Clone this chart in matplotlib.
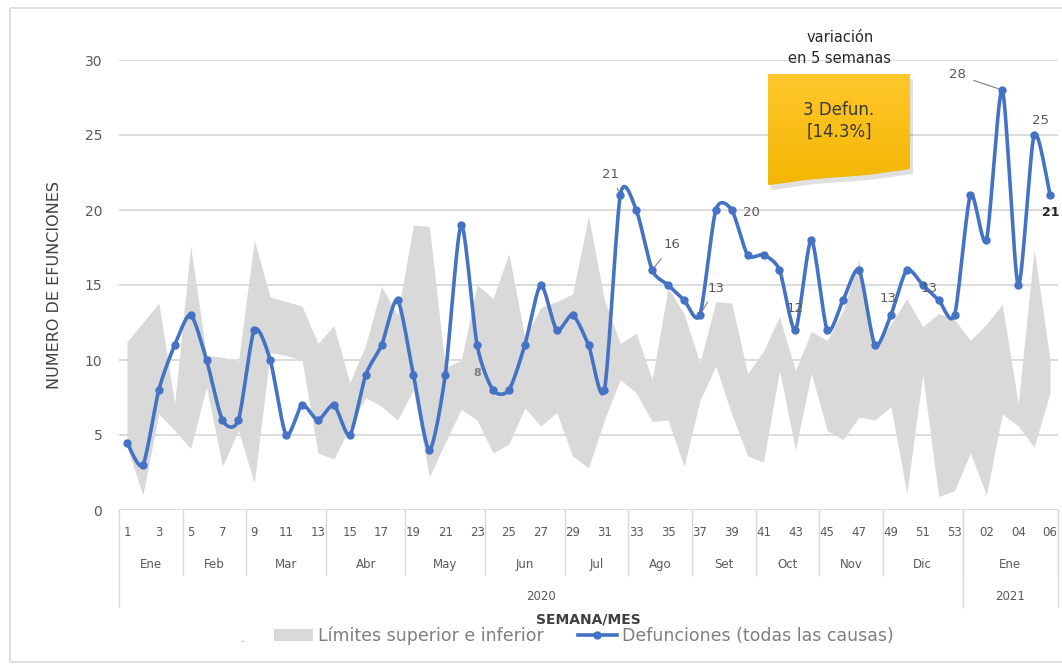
import numpy as np
import matplotlib
matplotlib.use("Agg")
import matplotlib.pyplot as plt
import matplotlib.transforms as mtransforms
from matplotlib.patches import Polygon, Rectangle, Patch
from matplotlib.lines import Line2D

# --- data -------------------------------------------------------------
deaths = [4.5, 3, 8, 11, 13, 10, 6, 6, 12, 10,
          5, 7, 6, 7, 5, 9, 11, 14, 9, 4,
          9, 19, 11, 8, 8, 11, 15, 12, 13, 11,
          8, 21, 20, 16, 15, 14, 13, 20, 20, 17,
          17, 16, 12, 18, 12, 14, 16, 11, 13, 16,
          15, 14, 13, 21, 18, 28, 15, 25, 21]

upper = [11.2, 12.5, 13.8, 7.1, 17.6, 10.3, 10.2, 9.9, 18.0, 14.2,
         13.9, 13.6, 11.1, 12.3, 8.5, 11.0, 14.9, 13.0, 19.0, 18.9,
         9.5, 10.0, 15.0, 14.1, 17.1, 11.5, 13.5, 13.9, 14.4, 19.6,
         14.0, 11.1, 11.8, 8.7, 14.8, 13.1, 9.8, 13.9, 13.8, 9.1,
         10.6, 12.9, 9.3, 11.9, 11.3, 13.3, 16.7, 10.9, 12.4, 14.1,
         12.2, 13.1, 12.7, 11.3, 12.4, 13.7, 7.1, 17.4, 10.0]

lower = [4.2, 1.0, 6.4, 5.3, 4.1, 8.2, 2.9, 5.3, 1.8, 10.5,
         10.3, 10.0, 3.8, 3.4, 5.5, 7.5, 6.9, 6.0, 8.0, 2.2,
         4.5, 6.7, 6.0, 3.8, 4.4, 6.8, 5.6, 6.5, 3.6, 2.8,
         6.0, 8.7, 7.8, 5.9, 6.0, 2.9, 7.3, 9.6, 6.4, 3.6,
         3.2, 9.3, 4.0, 9.1, 5.3, 4.7, 6.2, 6.0, 6.9, 1.1,
         9.0, 0.9, 1.3, 3.8, 1.0, 6.4, 5.6, 4.2, 7.8]

week_num = [str(w) for w in range(1, 54)] + ["01", "02", "03", "04", "05", "06"]
month_names = ["Ene", "Feb", "Mar", "Abr", "May", "Jun", "Jul", "Ago",
               "Set", "Oct", "Nov", "Dic", "Ene"]
month_weeks = [4, 4, 5, 5, 5, 5, 4, 4, 4, 4, 4, 5, 6]
year_names = ["2020", "2021"]
year_weeks = [53, 6]

# points that carry a data label
labelled = [31, 33, 36, 38, 42, 48, 52, 55, 57, 58, 23]

BLUE = "#4472C4"
BAND = "#D9D9D9"
GRID = "#D9D9D9"
TXT = "#595959"

W, H = 1062, 670


def fx(px):
    return px / W


def fy(py):
    return 1 - py / H


def smooth_line(xv, yv, n=16, tension=0.75):
    """Excel-like smoothed line (cardinal spline) through the points."""
    p = np.column_stack([xv, yv]).astype(float)
    p = np.vstack([p[0], p, p[-1]])
    t = np.linspace(0, 1, n, endpoint=False)[:, None]
    h00 = 2 * t**3 - 3 * t**2 + 1
    h10 = t**3 - 2 * t**2 + t
    h01 = -2 * t**3 + 3 * t**2
    h11 = t**3 - t**2
    segs = []
    for i in range(1, len(p) - 2):
        p0, p1, p2, p3 = p[i - 1], p[i], p[i + 1], p[i + 2]
        m1 = tension * (p2 - p0) / 2
        m2 = tension * (p3 - p1) / 2
        segs.append(h00 * p1 + h10 * m1 + h01 * p2 + h11 * m2)
    segs.append(p[-2][None, :])
    arr = np.vstack(segs)
    return arr[:, 0], arr[:, 1]


plt.rcParams["font.family"] = ["DejaVu Sans"]
fig = plt.figure(figsize=(W / 100, H / 100), dpi=100)
ax = fig.add_axes([fx(119), fy(510), (1058 - 119) / W, (510 - 60) / H])

x = np.arange(len(deaths))
ax.fill_between(x, lower, upper, color=BAND, lw=0, zorder=1)
sx, sy = smooth_line(x, deaths)
ax.plot(sx, sy, color=BLUE, lw=2.6, zorder=3, solid_capstyle="round")
ax.plot(x, deaths, "o", color=BLUE, ms=5, zorder=4)

ax.set_xlim(-0.5, len(x) - 0.5)
ax.set_ylim(0, 30)
ax.set_yticks(range(0, 31, 5))
ax.grid(axis="y", color=GRID, lw=1.3, zorder=0)
ax.set_axisbelow(True)
for s in ax.spines.values():
    s.set_visible(False)
ax.set_xticks([])
ax.tick_params(axis="y", length=0, pad=12, labelsize=10, labelcolor=TXT)
ax.set_ylabel("NUMERO DE EFUNCIONES", fontsize=11.5, color="#404040")
ax.yaxis.set_label_coords(-0.061, 0.5)

# --- multi level category axis -----------------------------------------
trans = mtransforms.blended_transform_factory(ax.transData, ax.transAxes)
for i, w in enumerate(week_num):
    if i % 2 == 0:
        ax.text(i, -0.051, w, transform=trans, ha="center", va="center",
                fontsize=8.5, color=TXT, clip_on=False)

start = 0
for name, n in zip(month_names, month_weeks):
    ax.text(start + (n - 1) / 2, -0.122, name, transform=trans, ha="center",
            va="center", fontsize=8.5, color=TXT, clip_on=False)
    start += n
    ax.add_line(Line2D([start - 0.5, start - 0.5], [0, -0.144], transform=trans,
                       color=GRID, lw=1, clip_on=False))

start = 0
ax.add_line(Line2D([-0.5, -0.5], [0, -0.216], transform=trans,
                   color=GRID, lw=1, clip_on=False))
for name, n in zip(year_names, year_weeks):
    ax.text(start + (n - 1) / 2, -0.193, name, transform=trans, ha="center",
            va="center", fontsize=8.5, color=TXT, clip_on=False)
    start += n
    ax.add_line(Line2D([start - 0.5, start - 0.5], [0, -0.216], transform=trans,
                       color=GRID, lw=1, clip_on=False))

ax.text(0.5, -0.244, "SEMANA/MES", transform=ax.transAxes, ha="center",
        va="center", fontsize=10, fontweight="bold", color="#404040")

# --- data labels (offsets in pixels) -----------------------------------
offsets = {31: (-10, 21), 33: (20, 25), 36: (16, 27), 38: (20, -2),
           42: (0, 22), 48: (-3, 17), 52: (-25, 27), 55: (-45, 15),
           57: (6, 14), 58: (1, -17), 23: (-16, 17)}
leaders = {31, 33, 36, 55}
for i in labelled:
    v = deaths[i]
    txt = f"{v:g}"
    kw = dict(fontsize=9.5, color=TXT)
    if i == 58:
        kw = dict(fontsize=9, color="#262626", fontweight="bold")
    if i == 23:
        kw = dict(fontsize=8, color="#7F7F7F", fontweight="bold")
    ap = None
    if i in leaders:
        ap = dict(arrowstyle="-", color="#7F7F7F", lw=0.8, shrinkA=4, shrinkB=3)
    ax.annotate(txt, xy=(i, v), xytext=offsets[i], textcoords="offset pixels",
                ha="center", va="center", arrowprops=ap, zorder=6,
                annotation_clip=False, **kw)

# --- legend -------------------------------------------------------------
handles = [Patch(facecolor=BAND, edgecolor="none"),
           Line2D([], [], color=BLUE, lw=2.6, marker="o", ms=5)]
fig.legend(handles, ["Límites superior e inferior", "Defunciones (todas las causas)"],
           loc="center", bbox_to_anchor=(fx(584), fy(636)), ncol=2, frameon=False,
           fontsize=12.5, handlelength=2.2, handletextpad=0.3, columnspacing=2.0,
           labelcolor="#7F7F7F")
fig.text(fx(243), fy(638), ".", fontsize=9, color="#7F7F7F", ha="center", va="center")

# --- overlay in pixel space: border and callout ------------------------
ov = fig.add_axes([0, 0, 1, 1], zorder=5)
ov.set_xlim(0, W)
ov.set_ylim(H, 0)
ov.axis("off")
ov.patch.set_alpha(0)
ov.add_patch(Rectangle((10, 8), 1060, 654, fill=False, edgecolor="#D9D9D9", lw=1.2))

bx = np.linspace(910, 768, 40)
tt = (bx - 768) / 142
by = 177 + 8 * np.cos(np.pi * tt) - 2.5 * np.sin(2 * np.pi * tt)
pts = [(768, 74), (910, 74)] + list(zip(bx, by))
ov.add_patch(Polygon([(px + 3, py + 5) for px, py in pts], closed=True,
                     facecolor="black", alpha=0.12, edgecolor="none"))
# vertical gradient built from thin horizontal slices of the shape
box = Polygon(pts, closed=True, facecolor="#F9BE10", edgecolor="none")
ov.add_patch(box)
c_top = np.array([1.0, 0.78, 0.17])
c_bot = np.array([0.95, 0.71, 0.0])
edges = np.linspace(74, 190, 30)
for k in range(len(edges) - 1):
    f = k / (len(edges) - 2)
    r = Rectangle((768, edges[k]), 142, edges[k + 1] - edges[k] + 0.6,
                  facecolor=c_top * (1 - f) + c_bot * f, edgecolor="none")
    ov.add_patch(r)
    r.set_clip_path(box)
ov.text(839, 121, "3 Defun.\n[14.3%]", ha="center", va="center", fontsize=12,
        color="#3A3A3A", linespacing=1.3)
ov.text(840, 48, "variación\nen 5 semanas", ha="center", va="center",
        fontsize=10.5, color="#262626", linespacing=1.5)

fig.savefig("out.png", dpi=100, facecolor="white")
